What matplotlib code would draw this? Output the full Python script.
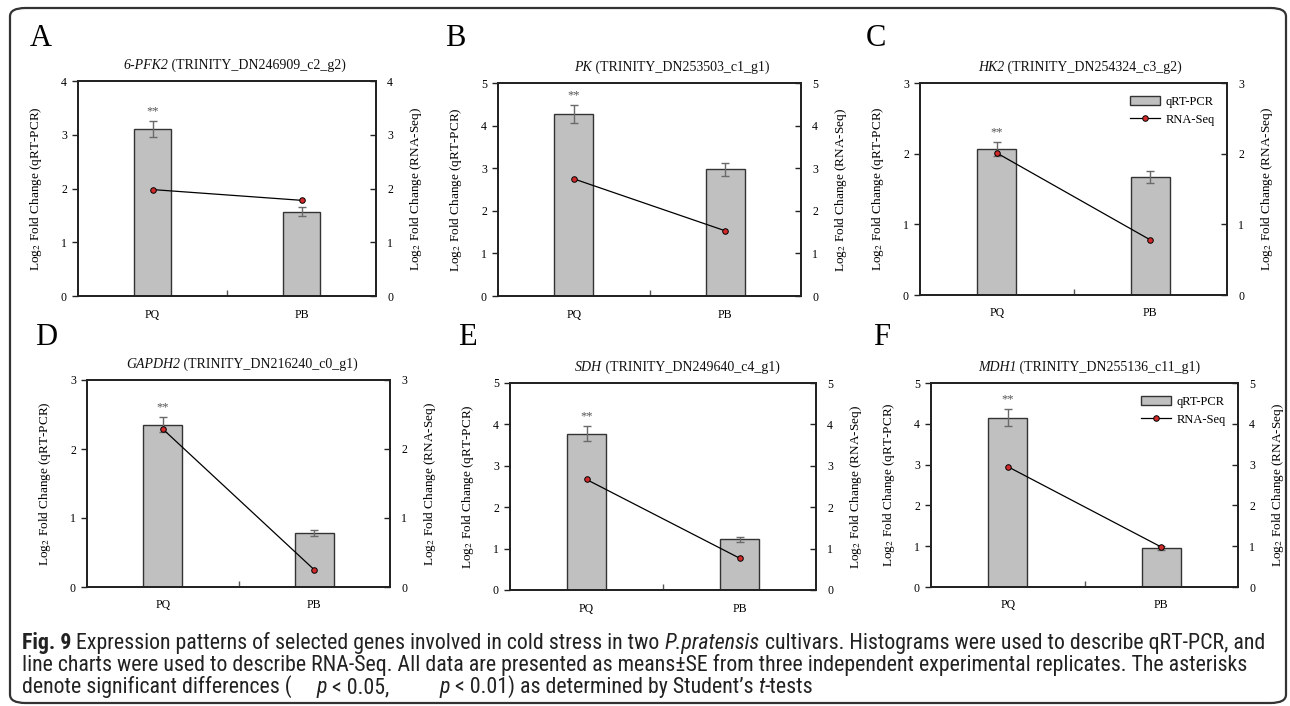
import matplotlib
matplotlib.use("Agg")
import matplotlib.pyplot as plt
from matplotlib import font_manager
from matplotlib.patches import FancyBboxPatch, Patch
from matplotlib.lines import Line2D

# ---------------- data ----------------
categories = ["PQ", "PB"]
panel_letters = ["A", "B", "C", "D", "E", "F"]
gene_names = ["6-PFK2", "PK", "HK2", "GAPDH2", "SDH", "MDH1"]
gene_ids = ["TRINITY_DN246909_c2_g2", "TRINITY_DN253503_c1_g1", "TRINITY_DN254324_c3_g2",
            "TRINITY_DN216240_c0_g1", "TRINITY_DN249640_c4_g1", "TRINITY_DN255136_c11_g1"]
y_max = [4, 5, 3, 3, 5, 5]
qpcr_A = [3.10, 1.57]; qpcr_err_A = [0.15, 0.08]; rnaseq_A = [1.98, 1.78]
qpcr_B = [4.27, 2.97]; qpcr_err_B = [0.21, 0.15]; rnaseq_B = [2.75, 1.53]
qpcr_C = [2.07, 1.67]; qpcr_err_C = [0.10, 0.08]; rnaseq_C = [2.01, 0.78]
qpcr_D = [2.35, 0.78]; qpcr_err_D = [0.11, 0.04]; rnaseq_D = [2.29, 0.25]
qpcr_E = [3.78, 1.23]; qpcr_err_E = [0.19, 0.06]; rnaseq_E = [2.67, 0.77]
qpcr_F = [4.15, 0.96]; qpcr_err_F = [0.21, 0.05]; rnaseq_F = [2.95, 0.98]
qpcr = [qpcr_A, qpcr_B, qpcr_C, qpcr_D, qpcr_E, qpcr_F]
qpcr_err = [qpcr_err_A, qpcr_err_B, qpcr_err_C, qpcr_err_D, qpcr_err_E, qpcr_err_F]
rnaseq = [rnaseq_A, rnaseq_B, rnaseq_C, rnaseq_D, rnaseq_E, rnaseq_F]
significance = ["**", "**", "**", "**", "**", "**"]
legend_panels = [2, 5]

# ---------------- fonts ----------------
available = {f.name for f in font_manager.fontManager.ttflist}
def pick(*names):
    for n in names:
        if n in available:
            return n
    return "DejaVu Sans"
SERIF = pick("Liberation Serif", "DejaVu Serif")
CAP = pick("Liberation Sans Narrow", "Roboto Condensed", "Open Sans Condensed", "Liberation Sans", "Roboto")

plt.rcParams["font.family"] = [SERIF]
plt.rcParams["mathtext.fontset"] = "stix"

W, H = 1290, 706
fig = plt.figure(figsize=(W / 100, H / 100), dpi=100)
renderer = fig.canvas.get_renderer()


def text_width(s, **kw):
    t = fig.text(0, 0, s + "|", **kw)
    w1 = t.get_window_extent(renderer).width
    t.set_text("|")
    w2 = t.get_window_extent(renderer).width
    t.remove()
    return w1 - w2


def draw_segments(x_px, y_px, segments, align="left", **common):
    """segments: list of (text, dict of extra props). y is baseline (pixel from top)."""
    widths = [text_width(s, **{**common, **p}) for s, p in segments]
    total = sum(widths)
    x0 = x_px - total / 2 if align == "center" else x_px
    for (s, p), w in zip(segments, widths):
        fig.text(x0 / W, 1 - y_px / H, s, va="baseline", ha="left", **{**common, **p})
        x0 += w
    return total


# rounded frame
frame = FancyBboxPatch((10 / W, 1 - 703 / H), (1286 - 10) / W, (703 - 8) / H,
                       boxstyle="round,pad=0,rounding_size=0.012",
                       transform=fig.transFigure, fill=False, lw=1.6, ec="#333333")
fig.patches.append(frame)

# axes boxes in pixels: left, top, right, bottom
boxes = [(78, 81, 376, 296), (498, 83, 801, 296), (920, 83, 1227, 295),
         (87, 380, 390, 587), (510, 383, 816, 590), (931, 383, 1238, 587)]
letter_pos = [(30, 38), (445, 38), (866, 38), (35, 337), (458, 337), (873, 337)]
title_cx = [235, 672, 1080, 242, 677, 1089]

BAR_FC = "#c0c0c0"
BAR_EC = "#333333"
RED = "#d12a2a"
SPINE = "#222222"

for i in range(6):
    l, t, r, b = boxes[i]
    wpx, hpx = r - l, b - t
    ax = fig.add_axes([l / W, 1 - b / H, wpx / W, hpx / H])
    x = list(range(len(categories)))
    ax.bar(x, qpcr[i], width=0.255, color=BAR_FC, edgecolor=BAR_EC, lw=1.0, zorder=2)
    ax.errorbar(x, qpcr[i], yerr=qpcr_err[i], fmt="none", ecolor="#6a6a6a",
                elinewidth=1.0, capsize=3, capthick=1.0, zorder=3)
    ax.annotate(significance[i], (x[0], qpcr[i][0] + qpcr_err[i][0]), xytext=(0, 7),
                textcoords="offset points", ha="center", va="center",
                fontsize=9, color="#555555")
    ax.set_xlim(-0.5, 1.5)
    ax.set_ylim(0, y_max[i])
    ax.set_yticks(range(0, y_max[i] + 1))
    ax.set_xticks(x)
    ax.set_xticklabels(categories)
    ax.set_xticks([0.5], minor=True)
    ax.tick_params(axis="x", which="major", length=0, labelsize=8.5, pad=9)
    ax.tick_params(axis="x", which="minor", length=4, direction="in", width=1, color="#555555")
    ax.tick_params(axis="y", length=4, direction="out", labelsize=8.5, width=1, color=SPINE, pad=4)
    for sp in ax.spines.values():
        sp.set_color(SPINE)
        sp.set_linewidth(1.3)
    ax.set_ylabel(r"Log$_2$ Fold Change (qRT-PCR)", fontsize=9.5)
    ax.yaxis.set_label_coords(-34 / wpx, 0.5)

    ax2 = ax.twinx()
    ax2.plot(x, rnaseq[i], color="black", lw=0.9, marker="o", markersize=4,
             markerfacecolor=RED, markeredgecolor="black", markeredgewidth=0.7, zorder=4)
    ax2.set_ylim(0, y_max[i])
    ax2.set_yticks(range(0, y_max[i] + 1))
    ax2.tick_params(axis="y", length=4, direction="in", labelsize=8.5, width=1, color=SPINE, pad=8)
    for sp in ax2.spines.values():
        sp.set_color(SPINE)
        sp.set_linewidth(1.3)
    ax2.set_ylabel(r"Log$_2$ Fold Change (RNA-Seq)", fontsize=9.5)
    ax2.yaxis.set_label_coords(1 + 32 / wpx, 0.5)

    # title: italic gene name + regular id
    draw_segments(title_cx[i], t - 12,
                  [(gene_names[i], {"style": "italic"}), (" (" + gene_ids[i] + ")", {})],
                  align="center", fontsize=10, family=SERIF, color="#111111")

    if i in legend_panels:
        handles = [Patch(facecolor=BAR_FC, edgecolor=BAR_EC, lw=1.0),
                   Line2D([], [], color="black", lw=0.9, marker="o", markersize=4,
                          markerfacecolor=RED, markeredgecolor="black", markeredgewidth=0.7)]
        ax2.legend(handles, ["qRT-PCR", "RNA-Seq"], loc="upper right", frameon=False,
                   fontsize=9, handlelength=2.4, handleheight=0.8, handletextpad=0.4,
                   labelspacing=0.5, borderaxespad=0.6)

    lx, ly = letter_pos[i]
    fig.text(lx / W, 1 - ly / H, panel_letters[i], fontsize=22, family=SERIF,
             ha="left", va="center")

# ---------------- caption ----------------
REG = {}
IT = {"style": "italic"}
BF = {"weight": "bold"}
cap_lines = [
    [("Fig. 9", BF), (" Expression patterns of selected genes involved in cold stress in two ", REG),
     ("P.pratensis", IT), (" cultivars. Histograms were used to describe qRT-PCR, and", REG)],
    [("line charts were used to describe RNA-Seq. All data are presented as means±SE from three independent experimental replicates. The asterisks", REG)],
    [("denote significant differences (     ", REG), ("p", IT), (" < 0.05,          ", REG), ("p", IT),
     (" < 0.01) as determined by Student’s ", REG), ("t", IT), ("-tests", REG)],
]
cap_base = [649, 671, 693]
fs0 = 12
w0 = sum(text_width(s, fontsize=fs0, family=CAP, **p) for s, p in cap_lines[0])
fs = fs0 * 1241 / w0
for segs, yy in zip(cap_lines, cap_base):
    draw_segments(22, yy, segs, fontsize=fs, family=CAP, color="#222222")

fig.savefig("out.png", dpi=100)
